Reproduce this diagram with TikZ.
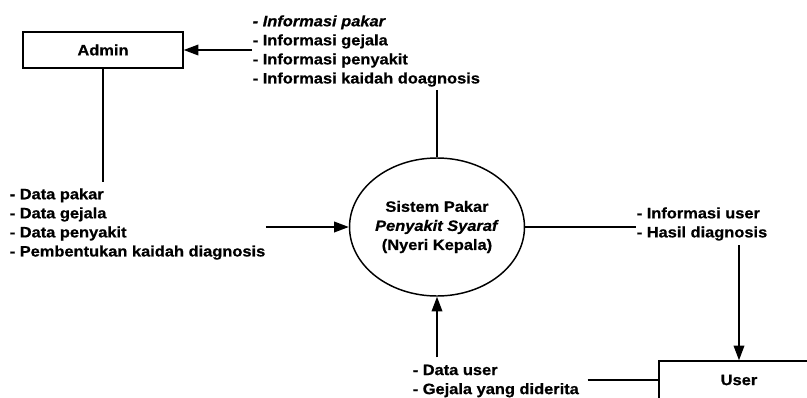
\documentclass[tikz,border=0pt]{standalone}
\usepackage{fontspec}
\setmainfont{Liberation Sans}[FakeStretch=1.09, FakeBold=0.7]
\usetikzlibrary{arrows.meta,shapes.geometric}
\begin{document}
\begin{tikzpicture}[x=0.75pt,y=-0.75pt,
  line width=1.1pt,
  basefont/.style={font=\bfseries\fontsize{11.3}{14.3}\selectfont},
  txt/.style={basefont, inner sep=0pt, align=left, anchor=west},
  entity/.style={draw, basefont, minimum width=120pt, minimum height=27pt, inner sep=0pt},
  proc/.style={draw, ellipse, basefont, minimum width=120pt, minimum height=103.5pt,
    inner sep=0pt, align=center},
  flow/.style={-{Triangle[length=11pt,width=8pt]}}
]
\useasboundingbox (0,0) rectangle (807,397);

% external entities and the process
\node[entity] (admin) at (103,50) {Admin};
\node[entity, minimum height=28.5pt] (user) at (739,380) {User};
\node[proc] (sys) at (437,227) {Sistem Pakar\\\textit{Penyakit Syaraf}\\(Nyeri Kepala)};

% data flow labels
\node[txt] (infoA) at (252,51) {\textit{- Informasi pakar}\\- Informasi gejala\\- Informasi penyakit\\- Informasi kaidah doagnosis};
\node[txt] (datain) at (9,224) {- Data pakar\\- Data gejala\\- Data penyakit\\- Pembentukan kaidah diagnosis};
\node[txt] (infoout) at (636,224) {- Informasi user\\- Hasil diagnosis};
\node[txt] (userin) at (412,381) {- Data user\\- Gejala yang diderita};

% flows
\draw[flow] (infoA.west |- admin.east) -- (admin.east);
\draw[shorten >=4pt] (admin.south) -- (admin.south |- datain.north);
\draw[flow] (datain.east |- sys.west) -- (sys.west);
\draw[shorten >=2pt] (sys.north) -- (sys.north |- infoA.south);
\draw (sys.east) -- (sys.east -| infoout.west);
\draw[flow, shorten <=3pt] (infoout.south -| user.north) -- (user.north);
\draw[flow, shorten <=5pt] (userin.north -| sys.south) -- (sys.south);
\draw[shorten <=6pt] (userin.east |- user.west) -- (user.west);
\end{tikzpicture}
\end{document}
